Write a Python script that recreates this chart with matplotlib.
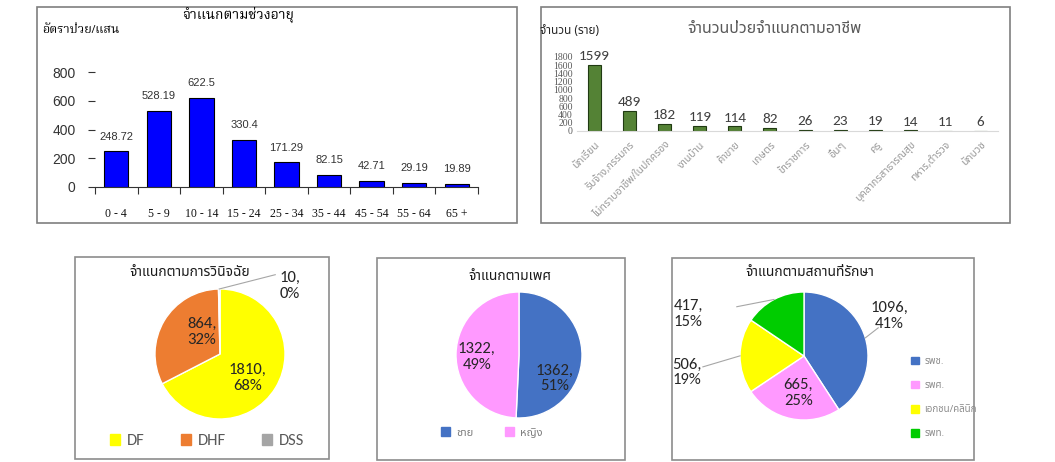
import matplotlib
matplotlib.use("Agg")
import matplotlib.pyplot as plt
import numpy as np
from matplotlib import font_manager
from matplotlib.patches import Rectangle, Patch

# ---- data ----
age_groups = ["0 - 4", "5 - 9", "10 - 14", "15 - 24", "25 - 34", "35 - 44", "45 - 54", "55 - 64", "65 +"]
age_rate = [248.72, 528.19, 622.5, 330.4, 171.29, 82.15, 42.71, 29.19, 19.89]

occupations = ["นักเรียน", "รับจ้าง,กรรมกร", "ไม่ทราบอาชีพ/ในปกครอง", "งานบ้าน", "ค้าขาย",
               "เกษตร", "ข้าราชการ", "อื่นๆ", "ครู", "บุคลากรสาธารณสุข", "ทหาร,ตำรวจ", "นักบวช"]
occ_cases = [1599, 489, 182, 119, 114, 82, 26, 23, 19, 14, 11, 6]

diag_labels = ["DF", "DHF", "DSS"]
diag_cases = [1810, 864, 10]
diag_pct = [68, 32, 0]

sex_labels = ["ชาย", "หญิง"]
sex_cases = [1362, 1322]
sex_pct = [51, 49]

place_labels = ["รพช.", "รพศ.", "เอกชน/คลินิก", "รพท."]
place_cases = [1096, 665, 506, 417]
place_pct = [41, 25, 19, 15]

# ---- fonts ----
_installed = {f.name for f in font_manager.fontManager.ttflist}
_latin = "Carlito" if "Carlito" in _installed else "Lato"
SANS = [_latin, "Noto Sans Thai", "DejaVu Sans"]
THAI = ["Noto Sans Thai", "DejaVu Sans"]
SERIF = ["Liberation Serif", "Noto Serif Thai", "DejaVu Serif"]
ARIAL = ["Liberation Sans", "DejaVu Sans"]

W, H = 1055, 462
fig = plt.figure(figsize=(W / 100, H / 100), dpi=100)


def px_axes(x0, y0, x1, y1):
    return fig.add_axes([x0 / W, 1 - y1 / H, (x1 - x0) / W, (y1 - y0) / H])


def box(x0, y0, x1, y1, color="#8c8c8c"):
    fig.add_artist(Rectangle((x0 / W, 1 - y1 / H), (x1 - x0) / W, (y1 - y0) / H,
                             transform=fig.transFigure, fill=False, ec=color, lw=1.2))


def ftext(x, y, s, **kw):
    kw.setdefault("ha", "center")
    kw.setdefault("va", "center")
    fig.text(x / W, 1 - y / H, s, **kw)


# ---- panel 1 : rate by age group ----
box(37, 7, 517, 223, "#7f7f7f")
ax1 = px_axes(95, 72, 478, 187)
x = np.arange(len(age_groups))
bars = ax1.bar(x, age_rate, width=0.57, color="#0000FF", edgecolor="black", lw=0.8)
ax1.set_xlim(-0.5, len(age_groups) - 0.5)
ax1.set_ylim(0, 800)
ax1.set_yticks(range(0, 801, 200))
ax1.set_xticks(x)
ax1.set_xticklabels(age_groups, family=SERIF, fontsize=8.5, color="#111111")
ax1.set_xticks(np.arange(-0.5, len(age_groups)), minor=True)
ax1.tick_params(axis="x", which="major", length=0, pad=15)
ax1.tick_params(axis="x", which="minor", length=5, width=0.8, color="#333333")
ax1.tick_params(axis="y", length=5, width=0.8, color="#333333", pad=9,
                labelsize=10, labelcolor="#333333")
for lab in ax1.get_yticklabels():
    lab.set_family(ARIAL)
for s in ("top", "right", "left"):
    ax1.spines[s].set_visible(False)
ax1.spines["bottom"].set_color("#333333")
for b, v in zip(bars, age_rate):
    ax1.annotate(f"{v:g}", (b.get_x() + b.get_width() / 2, v), xytext=(0, 7),
                 textcoords="offset points", ha="center", va="bottom",
                 fontsize=8, color="#333333", family=ARIAL)
ftext(238, 15, "จำแนกตามช่วงอายุ", family=SERIF, fontsize=10, weight="bold")
ftext(42, 30, "อัตราป่วย/แสน", family=SERIF, fontsize=9, weight="bold", ha="left")

# ---- panel 2 : cases by occupation ----
box(541, 7, 1010, 223, "#7f7f7f")
ax2 = px_axes(577, 57, 998, 131)
x = np.arange(len(occupations))
bars = ax2.bar(x, occ_cases, width=0.37, color="#548235", edgecolor="#203a12", lw=0.8)
ax2.set_xlim(-0.5, len(occupations) - 0.5)
ax2.set_ylim(0, 1800)
ax2.set_yticks(range(0, 1801, 200))
ax2.set_xticks(x)
ax2.set_xticklabels(occupations, rotation=45, ha="right", rotation_mode="anchor",
                    family=THAI, fontsize=7.5, color="#999999")
ax2.tick_params(axis="x", length=0, pad=6)
ax2.tick_params(axis="y", length=0, pad=3, labelsize=7, labelcolor="#595959")
for lab in ax2.get_yticklabels():
    lab.set_family(SERIF)
for s in ("top", "right", "left"):
    ax2.spines[s].set_visible(False)
ax2.spines["bottom"].set_color("#d9d9d9")
for b, v in zip(bars, occ_cases):
    ax2.annotate(str(v), (b.get_x() + b.get_width() / 2, v), xytext=(0, 2),
                 textcoords="offset points", ha="center", va="bottom",
                 fontsize=11, color="#404040", family=SANS)
ftext(775, 29, "จำนวนป่วยจำแนกตามอาชีพ", family=THAI, fontsize=11.5, color="#595959")
ftext(540, 30, "จำนวน (ราย)", family=THAI, fontsize=8.5, weight="bold", ha="left", color="#262626")


# ---- pies ----
def draw_pie(cx, cy, r, cases, pct, colors, label_xy, leader_end):
    ax = px_axes(cx - 2 * r, cy - 2 * r, cx + 2 * r, cy + 2 * r)
    wedges, _ = ax.pie(cases, colors=colors, startangle=90, counterclock=False, radius=1,
                       wedgeprops=dict(edgecolor="white", linewidth=1))
    ax.set_xlim(-2, 2)
    ax.set_ylim(-2, 2)
    ax.set_aspect("equal")
    ax.axis("off")
    for w, c, p, (lx, ly), end in zip(wedges, cases, pct, label_xy, leader_end):
        ax.text(lx, ly, f"{c},\n{p}%", ha="center", va="center", fontsize=12,
                color="#262626", family=SANS, linespacing=1.15)
        if end is not None:
            mid = np.deg2rad((w.theta1 + w.theta2) / 2)
            ax.plot([np.cos(mid), end[0]], [np.sin(mid), end[1]], color="#a6a6a6", lw=0.8)
    return ax


# diagnosis
box(75, 257, 329, 459)
draw_pie(220, 354, 65, diag_cases, diag_pct, ["#FFFF00", "#ED7D31", "#A5A5A5"],
         [(0.42, -0.37), (-0.28, 0.34), (1.08, 1.05)],
         [None, None, (0.85, 1.22)])
ftext(190, 273, "จำแนกตามการวินิจฉัย", family=THAI, fontsize=10, weight="bold", color="#1a1a1a")
fig.legend([Patch(color=c) for c in ["#FFFF00", "#ED7D31", "#A5A5A5"]], diag_labels,
           loc="center", bbox_to_anchor=(207 / W, 1 - 441 / H), ncol=3, frameon=False,
           prop=dict(family=SANS, size=12), labelcolor="#595959", handlelength=0.6,
           handleheight=0.6, handletextpad=0.4, columnspacing=2.2)

# sex
box(377, 258, 625, 460)
draw_pie(519, 355, 63, sex_cases, sex_pct, ["#4472C4", "#FF99FF"],
         [(0.57, -0.37), (-0.67, -0.03)], [None, None])
ftext(510, 277, "จำแนกตามเพศ", family=THAI, fontsize=10, weight="bold", color="#1a1a1a")
fig.legend([Patch(color=c) for c in ["#4472C4", "#FF99FF"]], sex_labels,
           loc="center left", bbox_to_anchor=(431 / W, 1 - 433 / H), ncol=2, frameon=False,
           prop=dict(family=THAI, size=8), labelcolor="#7f7f7f", handlelength=0.8,
           handleheight=0.8, handletextpad=0.6, columnspacing=2.8)

# place of treatment
box(672, 258, 974, 460)
draw_pie(804, 356, 64, place_cases, place_pct, ["#4472C4", "#FF99FF", "#FFFF00", "#00CC00"],
         [(1.33, 0.63), (-0.09, -0.58), (-1.83, -0.26), (-1.81, 0.66)],
         [(1.16, 0.44), None, (-1.58, -0.17), (-1.05, 0.77)])
ftext(810, 273, "จำแนกตามสถานที่รักษา", family=THAI, fontsize=10, weight="bold", color="#1a1a1a")
fig.legend([Patch(color=c) for c in ["#4472C4", "#FF99FF", "#FFFF00", "#00CC00"]], place_labels,
           loc="upper left", bbox_to_anchor=(902 / W, 1 - 348 / H), ncol=1, frameon=False,
           prop=dict(family=THAI, size=7), labelcolor="#8c8c8c", handlelength=0.8,
           handleheight=0.8, handletextpad=0.6, labelspacing=1.55)

fig.savefig("out.png", dpi=100)
